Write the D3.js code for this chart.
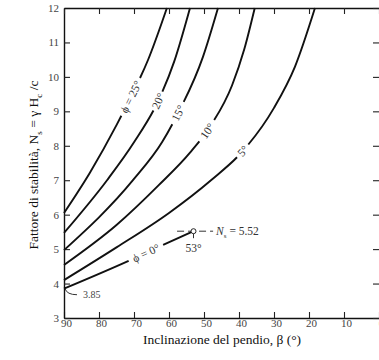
<!DOCTYPE html>
<html><head><meta charset="utf-8">
<script src="https://cdn.jsdelivr.net/npm/d3@7/dist/d3.min.js"></script>
<style>
html,body{margin:0;padding:0;background:#fff;}
svg{display:block;}
text{font-family:"Liberation Serif","DejaVu Serif",serif;}
</style></head>
<body>
<svg id="c" width="379" height="360"></svg>
<script>
// ---- data ----
const xTicks = [90, 80, 70, 60, 50, 40, 30, 20, 10, 0];
const yTicks = [3, 4, 5, 6, 7, 8, 9, 10, 11, 12];
const phiNames = ["ϕ = 25°", "20°", "15°", "10°", "5°", "ϕ = 0°"];
const beta25 = [90, 82.6, 75, 70.9, 66, 60.6];
const ns25   = [6.05, 7.22, 8.6, 9.42, 10.49, 12];
const beta20 = [90, 77.7, 70, 63.1, 58.5, 54];
const ns20   = [5.47, 7.0, 8.1, 9.3, 10.45, 12];
const beta15 = [90, 70.3, 62, 57.4, 50.3, 46];
const ns15   = [4.97, 7.0, 8.1, 8.95, 10.58, 12];
const beta10 = [90, 75, 63, 54, 48, 42, 38.5, 35.5];
const ns10   = [4.54, 5.7, 6.85, 7.8, 8.6, 9.75, 10.8, 12];
const beta5  = [90, 75, 60, 48, 38.9, 30, 24, 18.3];
const ns5    = [4.1, 5.05, 6.05, 7.0, 7.85, 9.1, 10.3, 12];
const beta0  = [90, 71.7, 61.7, 53];
const ns0    = [3.85, 4.65, 5.12, 5.52];
const labelBeta = [70.9, 63.1, 57.4, 49.1, 38.9, 66.6];
const nsCritical = 5.52, betaCritical = 53, nsStart = 3.85;
const nsLineBeta = [57.7, 47.4];

const curves = [
  {b: beta25, n: ns25}, {b: beta20, n: ns20}, {b: beta15, n: ns15},
  {b: beta10, n: ns10}, {b: beta5, n: ns5}, {b: beta0, n: ns0}
];
const gapHalf = [21, 10.5, 12.5, 13, 8.5, 19];

const svg = d3.select("#c");
const x = d3.scaleLinear().domain([90, 0]).range([64, 379]);
const y = d3.scaleLinear().domain([3, 12]).range([318, 8]);

svg.append("rect").attr("width", 379).attr("height", 360).attr("fill", "#fff");

const gAx = svg.append("g");
const bx = gAx.append("g").attr("transform", `translate(0,${y(3)})`)
  .call(d3.axisBottom(x).tickValues(xTicks).tickSizeInner(-6).tickSizeOuter(0).tickPadding(1).tickFormat(d3.format("d")));
bx.selectAll("text").attr("dx", 2);
gAx.append("g").attr("transform", `translate(${x(90)},0)`)
  .call(d3.axisLeft(y).tickValues(yTicks).tickSizeInner(-6).tickSizeOuter(0).tickPadding(5).tickFormat(d3.format("d")));
gAx.append("g").attr("transform", `translate(0,${y(12)})`)
  .call(d3.axisTop(x).tickValues(xTicks).tickSizeInner(-6).tickSizeOuter(0).tickFormat(""));
const ra = gAx.append("g").attr("transform", `translate(${x(0)},0)`)
  .call(d3.axisRight(y).tickValues(yTicks).tickSizeInner(-6).tickSizeOuter(0).tickFormat(""));
ra.select(".domain").remove();

gAx.selectAll(".domain").attr("stroke", "#111").attr("stroke-width", 1.4);
gAx.selectAll(".tick line").attr("stroke", "#222").attr("stroke-width", 1.1);
gAx.selectAll(".tick text").attr("fill", "#444").attr("font-size", 11)
  .attr("font-family", "Liberation Serif");

const line = d3.line().x(d => x(d[0])).y(d => y(d[1])).curve(d3.curveMonotoneX);
const gC = svg.append("g");
curves.forEach((c, i) => {
  const pts = c.b.map((b, k) => [b, c.n[k]]);
  const p = gC.append("path").attr("d", line(pts)).attr("fill", "none")
    .attr("stroke", "#111").attr("stroke-width", 1.9);
  const node = p.node();
  const total = node.getTotalLength();
  const tx = x(labelBeta[i]);
  let lo = 0, hi = total;
  for (let it = 0; it < 40; it++) {
    const mid = (lo + hi) / 2;
    if (node.getPointAtLength(mid).x < tx) lo = mid; else hi = mid;
  }
  const L = (lo + hi) / 2;
  const g = gapHalf[i];
  p.attr("stroke-dasharray", `${L - g} ${2 * g} ${total}`);
  const pt = node.getPointAtLength(L);
  const p1 = node.getPointAtLength(Math.max(0, L - 4)), p2 = node.getPointAtLength(Math.min(total, L + 4));
  const ang = Math.atan2(p2.y - p1.y, p2.x - p1.x) * 180 / Math.PI;
  gC.append("text").attr("transform", `translate(${pt.x},${pt.y}) rotate(${ang})`)
    .attr("text-anchor", "middle").attr("dy", "0.35em").attr("font-size", 11.5)
    .attr("fill", "#333").text(phiNames[i]);
});

svg.append("line").attr("x1", x(nsLineBeta[0])).attr("x2", x(nsLineBeta[1]))
  .attr("y1", y(nsCritical)).attr("y2", y(nsCritical))
  .attr("stroke", "#333").attr("stroke-width", 1).attr("stroke-dasharray", "7,4");
svg.append("line").attr("x1", x(betaCritical)).attr("x2", x(betaCritical))
  .attr("y1", y(nsCritical)).attr("y2", y(nsCritical) + 7).attr("stroke", "#333").attr("stroke-width", 1);
svg.append("circle").attr("cx", x(betaCritical)).attr("cy", y(nsCritical)).attr("r", 2.5)
  .attr("fill", "#fff").attr("stroke", "#222").attr("stroke-width", 1);
const tN = svg.append("text").attr("x", x(nsLineBeta[1]) + 3).attr("y", y(nsCritical)).attr("dy", "0.35em")
  .attr("font-size", 11.5).attr("fill", "#333");
tN.append("tspan").attr("font-style", "italic").text("N");
tN.append("tspan").attr("font-size", 7).attr("dy", 3).text("s");
tN.append("tspan").attr("dy", -3).text(" = " + nsCritical.toFixed(2));
svg.append("text").attr("x", x(betaCritical)).attr("y", y(nsCritical) + 21)
  .attr("text-anchor", "middle").attr("font-size", 11.5).attr("fill", "#333").text(betaCritical + "°");

svg.append("path")
  .attr("d", `M${x(90) + 1},${y(nsStart)} q 2,6 12,6`)
  .attr("fill", "none").attr("stroke", "#333").attr("stroke-width", 1);
svg.append("text").attr("x", x(90) + 19).attr("y", y(nsStart) + 9)
  .attr("font-size", 10).attr("fill", "#444").text(nsStart.toFixed(2));

svg.append("text").attr("x", 222).attr("y", 344).attr("text-anchor", "middle")
  .attr("font-size", 13.5).attr("fill", "#111").text("Inclinazione del pendio, β (°)");
const yt = svg.append("text").attr("transform", "translate(38,165) rotate(-90)")
  .attr("text-anchor", "middle").attr("font-size", 13.5).attr("fill", "#111");
yt.append("tspan").text("Fattore di stabilità, N");
yt.append("tspan").attr("font-size", 9).attr("dy", 4).text("s");
yt.append("tspan").attr("dy", -4).text(" = γ H");
yt.append("tspan").attr("font-size", 9).attr("dy", 4).text("c");
yt.append("tspan").attr("dy", -4).text(" /c");
</script>
</body></html>
